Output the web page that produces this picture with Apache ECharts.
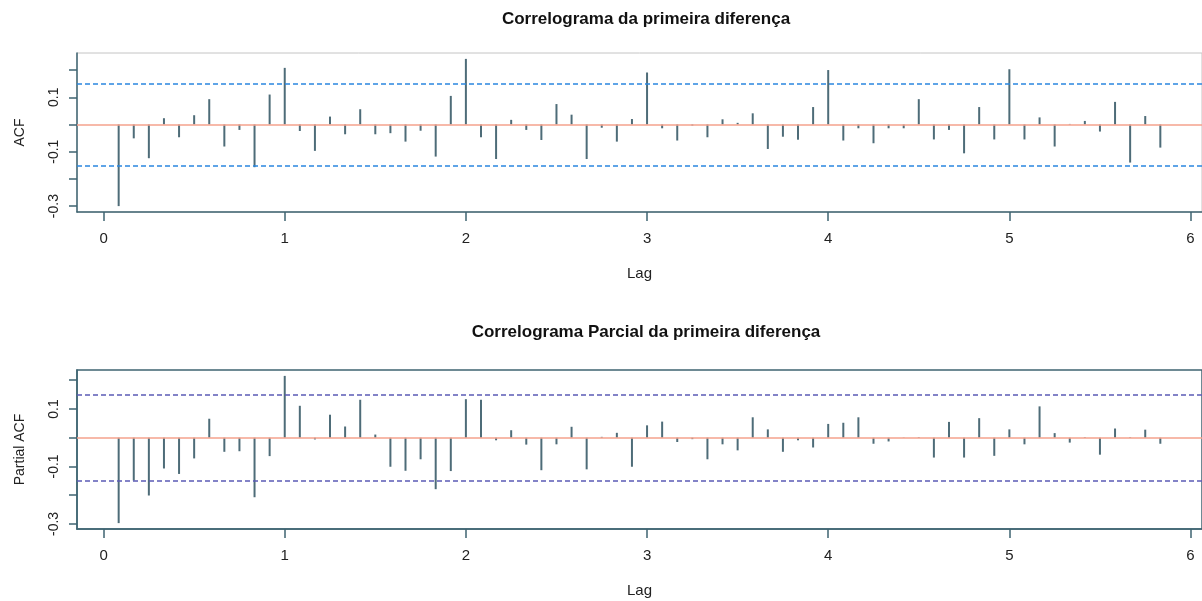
<!DOCTYPE html>
<html><head><meta charset="utf-8">
<script src="https://cdn.jsdelivr.net/npm/echarts@6/dist/echarts.min.js"></script>
<style>html,body{margin:0;padding:0;background:#fff}#c{width:1202px;height:601px}</style>
</head><body><div id="c"></div>
<script>
// lag index (months); plotted lag = index / frequency
const frequency = 12;
const lagIndex = [1,2,3,4,5,6,7,8,9,10,11,12,13,14,15,16,17,18,19,20,21,22,23,24,25,26,27,28,29,30,31,32,33,34,35,36,37,38,39,40,41,42,43,44,45,46,47,48,49,50,51,52,53,54,55,56,57,58,59,60,61,62,63,64,65,66,67,68,69,70];
const acfValues = [-0.300,-0.051,-0.124,0.023,-0.047,0.034,0.093,-0.081,-0.020,-0.157,0.110,0.208,
  -0.024,-0.097,0.029,-0.036,0.056,-0.036,-0.032,-0.063,-0.023,-0.118,0.105,0.241,
  -0.047,-0.127,0.017,-0.020,-0.057,0.075,0.036,-0.127,-0.012,-0.063,0.020,0.191,
  -0.014,-0.059,-0.004,-0.047,0.019,0.006,0.041,-0.090,-0.045,-0.056,0.064,0.200,
  -0.059,-0.014,-0.069,-0.014,-0.014,0.093,-0.055,-0.020,-0.106,0.064,-0.055,0.203,
  -0.055,0.026,-0.081,0.002,0.013,-0.026,0.083,-0.140,0.031,-0.085];
const pacfValues = [-0.297,-0.149,-0.201,-0.107,-0.126,-0.072,0.066,-0.049,-0.047,-0.207,-0.064,0.215,
  0.111,-0.006,0.080,0.039,0.132,0.011,-0.101,-0.115,-0.075,-0.179,-0.116,0.134,
  0.132,-0.009,0.026,-0.024,-0.113,-0.023,0.038,-0.110,0.003,0.017,-0.101,0.043,
  0.056,-0.015,-0.005,-0.075,-0.023,-0.044,0.071,0.029,-0.049,-0.009,-0.034,0.048,
  0.052,0.071,-0.021,-0.013,0.001,0.002,-0.069,0.055,-0.069,0.068,-0.063,0.029,
  -0.023,0.109,0.016,-0.017,0.002,-0.059,0.032,0.002,0.028,-0.021];
const confBound = 0.154;
const xTicks = [0,1,2,3,4,5,6];
const yTicks = [-0.3,-0.2,-0.1,0,0.1,0.2];
const yTickLabels = [-0.3,-0.1,0.1];
const titles = ['Correlograma da primeira diferença','Correlograma Parcial da primeira diferença'];
const yNames = ['ACF','Partial ACF'];
const xName = 'Lag';

const lags = lagIndex.map(k => k / frequency);
function expand(lo, hi){ const p = (hi - lo) * 0.04; return [lo - p, hi + p]; }
const xr = expand(Math.min(...lags), Math.max(...lags));
const yr = [acfValues, pacfValues].map(v => expand(Math.min(...v, -confBound), Math.max(...v, confBound)));

const FONT = '"Liberation Sans", Arial, sans-serif';
const AX = '#3f6472';
const grids = [
  {left:77, top:53, width:1127, height:159, show:true, borderColor:'#c4c4c4', borderWidth:1},
  {left:77, top:370, width:1127, height:159, show:true, borderColor:AX, borderWidth:1.5}
];
const boundColors = ['#2a86e0','#5b5bb5'];

function spikes(params, api){
  const x = api.value(0), y = api.value(1);
  const a = api.coord([x, 0]), b = api.coord([x, y]);
  return {type:'line', shape:{x1:a[0], y1:a[1], x2:b[0], y2:b[1]},
          style:{stroke:'#4e6c78', lineWidth:2}};
}

const chart = echarts.init(document.getElementById('c'), null, {renderer:'canvas'});
chart.setOption({
  backgroundColor:'#ffffff',
  animation:false,
  textStyle:{fontFamily:FONT},
  title: titles.map((t,i) => ({text:t, left:641, textAlign:'center', top: i===0 ? 6 : 319,
    textStyle:{fontFamily:FONT, fontSize:17, fontWeight:'bold', color:'#111'}})),
  grid: grids,
  xAxis: [0,1].map(i => ({type:'value', gridIndex:i, min:xr[0], max:xr[1],
    name:xName, nameLocation:'middle', nameGap:54,
    nameTextStyle:{fontFamily:FONT, fontSize:15, color:'#222'},
    axisLine:{show:true, onZero:false, lineStyle:{color:AX, width:1.5}},
    axisTick:{show:true, customValues:xTicks, length:9, lineStyle:{color:AX, width:1.5}},
    axisLabel:{show:true, customValues:xTicks, fontSize:15, color:'#222', margin:19, fontFamily:FONT},
    splitLine:{show:false}})),
  yAxis: [0,1].map(i => ({type:'value', gridIndex:i, min:yr[i][0], max:yr[i][1],
    name:yNames[i], nameLocation:'middle', nameGap:50,
    nameTextStyle:{fontFamily:FONT, fontSize:14, color:'#222'},
    axisLine:{show:true, onZero:false, lineStyle:{color:AX, width:1.5}},
    axisTick:{show:true, customValues:yTicks, length:8, lineStyle:{color:AX, width:1.5}},
    axisLabel:{show:true, customValues:yTickLabels, rotate:90, fontSize:14, color:'#222', margin:16,
      fontFamily:FONT, formatter: v => (Math.round(v*10)/10).toFixed(1)},
    splitLine:{show:false}})),
  series: [0,1].map(i => ({
    type:'custom', xAxisIndex:i, yAxisIndex:i, clip:true,
    data: lags.map((l,j) => [l, (i===0 ? acfValues : pacfValues)[j]]),
    encode:{x:0, y:1},
    renderItem: spikes,
    markLine:{silent:true, symbol:'none', label:{show:false}, animation:false,
      data:[
        {yAxis:0, lineStyle:{color:'#f4a28c', width:1.5, type:'solid'}},
        {yAxis:confBound, lineStyle:{color:boundColors[i], width:1.5, type:[5,3]}},
        {yAxis:-confBound, lineStyle:{color:boundColors[i], width:1.5, type:[5,3]}}
      ]}
  }))
});
</script>
</body></html>
